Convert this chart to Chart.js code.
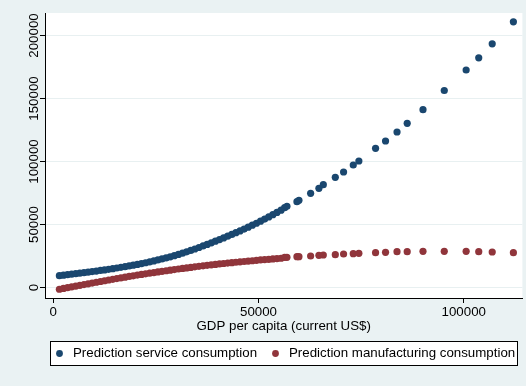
<!DOCTYPE html>
<html>
<head>
<meta charset="utf-8">
<script src="https://cdn.jsdelivr.net/npm/chart.js@4.4.1/dist/chart.umd.min.js"></script>
<style>
  html, body { margin: 0; padding: 0; background: rgb(234,242,243); }
  canvas { display: block; }
</style>
</head>
<body>
<canvas id="c" width="526" height="386"></canvas>
<script>
// GDP per capita (current US$) for each observation
const gdpPerCapita = [
  1500, 2500, 3500, 4500, 5500, 6500, 7500, 8500, 9500, 10500,
  11500, 12500, 13500, 14500, 15500, 16500, 17500, 18500, 19500, 20500,
  21500, 22500, 23500, 24500, 25500, 26500, 27500, 28500, 29500, 30500,
  31500, 32500, 33500, 34500, 35500, 36500, 37500, 38500, 39500, 40500,
  41500, 42500, 43500, 44500, 45500, 46500, 47500, 48500, 49500, 50500,
  51500, 52500, 53500, 54500, 55500,
  56373, 56932, 59365, 59852, 62698, 64718, 65788, 68708, 70727, 73087,
  74450, 78513, 80946, 83744, 86226, 90070, 95252, 100580, 103646, 106930, 112088
];

// Predicted service consumption
const serviceConsumption = [
  9400, 9770, 10150, 10550, 10950, 11350, 11750, 12180, 12620, 13050,
  13520, 13980, 14450, 14950, 15470, 16000, 16530, 17100, 17700, 18330,
  18980, 19650, 20350, 21080, 21850, 22650, 23480, 24350, 25280, 26250,
  27250, 28320, 29420, 30550, 31750, 32970, 34200, 35470, 36750, 38050,
  39380, 40730, 42100, 43500, 44930, 46400, 47900, 49430, 51000, 52630,
  54300, 56000, 57770, 59550, 61400,
  63333, 64444, 68095, 69206, 74762, 78730, 81587, 87460, 91667, 97222,
  100397, 110476, 116270, 123413, 130317, 141111, 156349, 172619, 182302, 193413, 210873
];

// Predicted manufacturing consumption
const manufacturingConsumption = [
  -1400, -770, -130, 500, 1130, 1750, 2350, 2950, 3550, 4150,
  4750, 5350, 5950, 6520, 7080, 7650, 8220, 8770, 9300, 9830,
  10350, 10850, 11350, 11850, 12350, 12820, 13280, 13750, 14220, 14670,
  15100, 15530, 15970, 16400, 16800, 17200, 17600, 17970, 18330, 18700,
  19030, 19370, 19700, 20030, 20350, 20650, 20950, 21250, 21550, 21850,
  22130, 22400, 22670, 22930, 23200,
  23968, 23968, 24444, 24444, 25000, 25556, 25794, 26032, 26587, 26825,
  27143, 27619, 27937, 28413, 28413, 28730, 28730, 28730, 28413, 28175, 27619
];

const yTickValues = [0, 50000, 100000, 150000, 200000];
const xTickValues = [0, 50000, 100000];
const seriesLabels = ['Prediction service consumption', 'Prediction manufacturing consumption'];
const xAxisTitle = 'GDP per capita (current US$)';

const NAVY = 'rgb(26,71,111)';
const MAROON = 'rgb(144,53,59)';
const BACKGROUND = 'rgb(234,242,243)';
const GRID = 'rgb(232,240,241)';
const FONT_FAMILY = '"Liberation Sans", Arial, Helvetica, sans-serif';
const FONT_SIZE = 13.3;
const MARKER_RADIUS = 3.6;

const toPoints = ys => gdpPerCapita.map((x, i) => ({ x: x, y: ys[i] }));

// Light graph region with a white plot region
const backdrop = {
  id: 'backdrop',
  beforeDraw(chart) {
    const { ctx, chartArea: a } = chart;
    ctx.save();
    ctx.fillStyle = BACKGROUND;
    ctx.fillRect(0, 0, chart.width, chart.height);
    ctx.fillStyle = '#ffffff';
    ctx.fillRect(a.left, a.top, a.right - a.left, a.bottom - a.top);
    ctx.restore();
  }
};

// Vertical y tick labels, centred on their ticks
const verticalYLabels = {
  id: 'verticalYLabels',
  afterDraw(chart) {
    const scale = chart.scales.y;
    const ctx = chart.ctx;
    ctx.save();
    ctx.fillStyle = '#000';
    ctx.font = FONT_SIZE + 'px ' + FONT_FAMILY;
    ctx.textAlign = 'center';
    ctx.textBaseline = 'middle';
    scale.ticks.forEach(t => {
      const py = scale.getPixelForValue(t.value);
      ctx.save();
      ctx.translate(34, py);
      ctx.rotate(-Math.PI / 2);
      ctx.fillText(String(t.value), 0, 0);
      ctx.restore();
    });
    ctx.restore();
  }
};

// Boxed legend below the axis title
const boxedLegend = {
  id: 'boxedLegend',
  afterDraw(chart) {
    const ctx = chart.ctx;
    ctx.save();
    ctx.fillStyle = '#ffffff';
    ctx.fillRect(50.5, 341.5, 467, 24);
    ctx.strokeStyle = '#000';
    ctx.lineWidth = 1;
    ctx.strokeRect(50.5, 341.5, 467, 24);
    const cy = 353.5;
    const entries = [
      { mx: 59.5, tx: 73, color: NAVY, text: seriesLabels[0] },
      { mx: 275.5, tx: 289, color: MAROON, text: seriesLabels[1] }
    ];
    ctx.font = FONT_SIZE + 'px ' + FONT_FAMILY;
    ctx.textAlign = 'left';
    ctx.textBaseline = 'middle';
    entries.forEach(e => {
      ctx.fillStyle = e.color;
      ctx.beginPath();
      ctx.arc(e.mx, cy, 3.4, 0, Math.PI * 2);
      ctx.fill();
      ctx.fillStyle = '#000';
      ctx.fillText(e.text, e.tx, cy);
    });
    ctx.restore();
  }
};

new Chart(document.getElementById('c'), {
  type: 'scatter',
  data: {
    datasets: [
      {
        label: seriesLabels[0],
        data: toPoints(serviceConsumption),
        backgroundColor: NAVY,
        pointBackgroundColor: NAVY,
        pointBorderWidth: 0,
        pointRadius: MARKER_RADIUS,
        pointHoverRadius: MARKER_RADIUS
      },
      {
        label: seriesLabels[1],
        data: toPoints(manufacturingConsumption),
        backgroundColor: MAROON,
        pointBackgroundColor: MAROON,
        pointBorderWidth: 0,
        pointRadius: MARKER_RADIUS,
        pointHoverRadius: MARKER_RADIUS
      }
    ]
  },
  options: {
    responsive: false,
    animation: false,
    events: [],
    layout: { padding: { top: 13, right: 3, bottom: 52, left: 0 } },
    plugins: {
      legend: { display: false },
      tooltip: { enabled: false }
    },
    scales: {
      x: {
        type: 'linear',
        min: -2000,
        max: 114282,
        afterBuildTicks: s => { s.ticks = xTickValues.map(v => ({ value: v })); },
        afterFit: s => { s.height = 36; },
        grid: { drawOnChartArea: false, drawTicks: true, tickLength: 5, tickColor: '#000', tickWidth: 1 },
        border: { display: true, color: '#000', width: 1 },
        ticks: {
          color: '#000',
          padding: 1,
          maxRotation: 0,
          autoSkip: false,
          font: { family: FONT_FAMILY, size: FONT_SIZE },
          callback: v => String(v)
        },
        title: {
          display: true,
          text: xAxisTitle,
          color: '#000',
          padding: 0,
          font: { family: FONT_FAMILY, size: FONT_SIZE }
        }
      },
      y: {
        type: 'linear',
        min: -8333,
        max: 217857,
        afterBuildTicks: s => { s.ticks = yTickValues.map(v => ({ value: v })); },
        afterFit: s => { s.width = 45; },
        grid: { color: GRID, lineWidth: 1, drawTicks: true, tickLength: 5, tickColor: '#000', tickWidth: 1 },
        border: { display: true, color: '#000', width: 1 },
        ticks: { display: false }
      }
    }
  },
  plugins: [backdrop, verticalYLabels, boxedLegend]
});
</script>
</body>
</html>
